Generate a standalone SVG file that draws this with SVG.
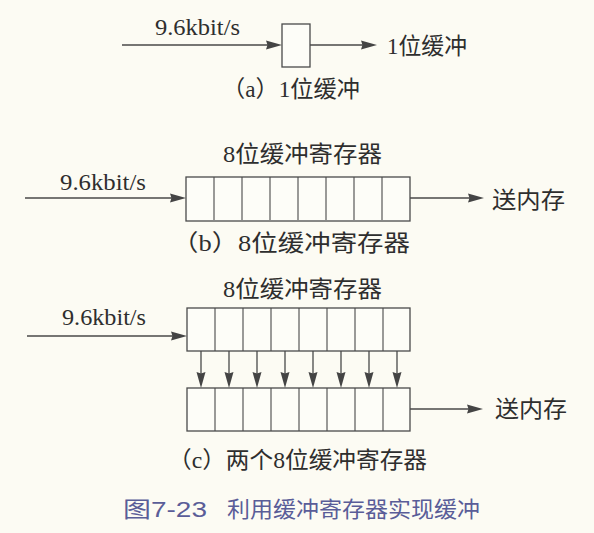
<svg xmlns="http://www.w3.org/2000/svg" width="594" height="533" viewBox="0 0 594 533">
<defs>
<style>
.bg{fill:#fcfbf3}
.box{fill:#fdfdf8;stroke:#4a4a4a;stroke-width:1.3}
.cell{stroke:#4a4a4a;stroke-width:1.1;fill:none}
.ln{stroke:#4a4a4a;stroke-width:1.3;fill:none}
.ah{fill:#444444}
.t{font-family:'Liberation Serif','Noto Sans CJK SC',serif;font-size:23px;fill:#2e2e2e}
.ttl{font-family:'Liberation Sans','Noto Sans CJK SC',sans-serif;font-size:22px;fill:#5a5d98}
</style>
<path id="ahR" d="M-16,-4.5 L0,0 L-16,4.5 L-14.5,0 z"/>
<path id="ahD" d="M-4.5,-16 L0,0 L4.5,-16 L0,-14.5 z"/>
<g id="cells8">
<path class="cell" d="M28,0V43M56,0V43M84,0V43M112,0V43M140,0V43M168,0V43M196,0V43"/>
</g>
</defs>
<rect class="bg" x="0" y="0" width="594" height="533"/>

<g id="nodeA">
<rect class="box" x="282" y="24" width="28" height="43"/>
</g>
<g id="regB">
<rect class="box" x="186" y="177" width="224" height="44"/>
<use href="#cells8" x="186" y="177"/>
</g>
<g id="regC1">
<rect class="box" x="187" y="308" width="223" height="43"/>
<use href="#cells8" x="187" y="308"/>
</g>
<g id="regC2">
<rect class="box" x="187" y="388" width="223" height="43"/>
<use href="#cells8" x="187" y="388"/>
</g>

<g id="connectors">
<path class="ln" d="M122,45H270M310,45H366M25,198H174M410,198H472M27,336H175M410,409H471"/>
<path class="ln" d="M201,351V376M229,351V376M257,351V376M285,351V376M313,351V376M341,351V376M369,351V376M397,351V376"/>
<g class="ah">
<use href="#ahR" x="282" y="45"/>
<use href="#ahR" x="377" y="45"/>
<use href="#ahR" x="186" y="198"/>
<use href="#ahR" x="484" y="198"/>
<use href="#ahR" x="187" y="336"/>
<use href="#ahR" x="483" y="409"/>
<use href="#ahD" x="201" y="388"/>
<use href="#ahD" x="229" y="388"/>
<use href="#ahD" x="257" y="388"/>
<use href="#ahD" x="285" y="388"/>
<use href="#ahD" x="313" y="388"/>
<use href="#ahD" x="341" y="388"/>
<use href="#ahD" x="369" y="388"/>
<use href="#ahD" x="397" y="388"/>
</g>
</g>

<g id="labels">
<text class="t" x="155" y="35" textLength="85" lengthAdjust="spacingAndGlyphs">9.6kbit/s</text>
<text class="t" x="387" y="54" textLength="80" lengthAdjust="spacingAndGlyphs">1位缓冲</text>
<text class="t" x="222" y="97" textLength="138" lengthAdjust="spacingAndGlyphs">（a）1位缓冲</text>

<text class="t" x="223" y="162" textLength="159" lengthAdjust="spacingAndGlyphs">8位缓冲寄存器</text>
<text class="t" x="60" y="190" textLength="86" lengthAdjust="spacingAndGlyphs">9.6kbit/s</text>
<text class="t" x="492" y="208" textLength="73" lengthAdjust="spacingAndGlyphs">送内存</text>
<text class="t" x="172" y="251" textLength="238" lengthAdjust="spacingAndGlyphs">（b）8位缓冲寄存器</text>

<text class="t" x="223" y="297" textLength="159" lengthAdjust="spacingAndGlyphs">8位缓冲寄存器</text>
<text class="t" x="62" y="325" textLength="84" lengthAdjust="spacingAndGlyphs">9.6kbit/s</text>
<text class="t" x="495" y="417" textLength="72" lengthAdjust="spacingAndGlyphs">送内存</text>
<text class="t" x="168" y="468" textLength="259" lengthAdjust="spacingAndGlyphs">（c）两个8位缓冲寄存器</text>

<text class="ttl" x="123" y="517" textLength="84" lengthAdjust="spacingAndGlyphs">图7-23</text>
<text class="ttl" x="227" y="517" textLength="253" lengthAdjust="spacingAndGlyphs">利用缓冲寄存器实现缓冲</text>
</g>
</svg>
